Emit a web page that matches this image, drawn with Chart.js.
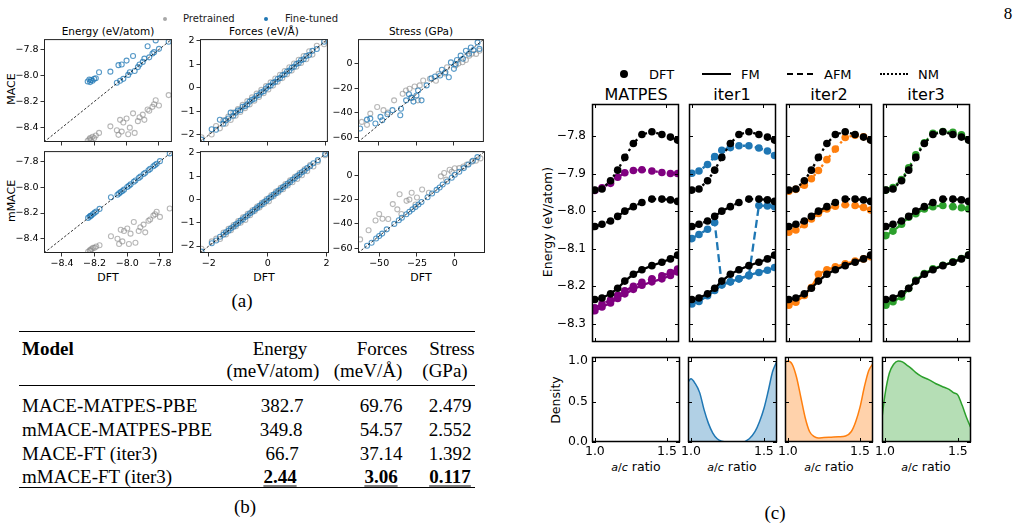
<!DOCTYPE html>
<html>
<head>
<meta charset="utf-8">
<script src="https://cdn.jsdelivr.net/npm/chart.js@4.4.1/dist/chart.umd.min.js"></script>
<style>
  body { margin:0; width:1025px; height:529px; background:#fff; position:relative; overflow:hidden; font-family:"DejaVu Sans", sans-serif; color:#000; }
  canvas { position:absolute; }
  .t { position:absolute; white-space:nowrap; transform:translate(-50%,-50%); line-height:1; }
  .l { position:absolute; white-space:nowrap; transform:translateY(-50%); line-height:1; }
  .rot { position:absolute; white-space:nowrap; transform:translate(-50%,-50%) rotate(-90deg); line-height:1; }
  .serif { font-family:"Liberation Serif", serif; font-size:19px; }
  .rule { position:absolute; left:19px; width:456px; background:#000; }
  .b { font-weight:bold; }
  .u { font-weight:bold; text-decoration:underline; text-underline-offset:3px; }
  .sm { font-size:10px; color:#222; }
</style>
</head>
<body>
<div class="t serif" style="left:1008px;top:13px;font-size:17px">8</div>

<!-- panel (a) texts -->
<div style="position:absolute;left:163px;top:17px;width:4px;height:4px;border-radius:50%;background:#a8a8a8"></div>
<div class="l sm" style="left:183px;top:19px">Pretrained</div>
<div style="position:absolute;left:264px;top:17px;width:4px;height:4px;border-radius:50%;background:#1f77b4"></div>
<div class="l sm" style="left:285px;top:19px">Fine-tuned</div>
<div class="t" style="left:108px;top:31px;font-size:10.5px">Energy (eV/atom)</div>
<div class="t" style="left:264px;top:31px;font-size:10.5px">Forces (eV/Å)</div>
<div class="t" style="left:421px;top:31px;font-size:10.5px">Stress (GPa)</div>
<div class="rot" style="left:11px;top:89px;font-size:11px">MACE</div>
<div class="rot" style="left:11px;top:201px;font-size:11px">mMACE</div>
<div class="t" style="left:108px;top:277px;font-size:11px">DFT</div>
<div class="t" style="left:264px;top:277px;font-size:11px">DFT</div>
<div class="t" style="left:421px;top:277px;font-size:11px">DFT</div>
<div class="t serif" style="left:242px;top:300px">(a)</div>

<!-- panel (b) table -->
<div class="rule" style="top:331px;height:1.4px"></div>
<div class="rule" style="top:385px;height:0.8px"></div>
<div class="rule" style="top:487px;height:1.4px"></div>
<div class="l serif b" style="left:22px;top:348px">Model</div>
<div class="t serif" style="left:280px;top:348px">Energy</div>
<div class="t serif" style="left:273px;top:370px">(meV/atom)</div>
<div class="t serif" style="left:382px;top:348px">Forces</div>
<div class="t serif" style="left:368px;top:370px">(meV/Å)</div>
<div class="t serif" style="left:452px;top:348px">Stress</div>
<div class="t serif" style="left:445px;top:370px">(GPa)</div>
<div class="l serif" style="left:22px;top:405px">MACE-MATPES-PBE</div>
<div class="t serif" style="left:282px;top:405px">382.7</div>
<div class="t serif" style="left:381px;top:405px">69.76</div>
<div class="t serif" style="left:450px;top:405px">2.479</div>
<div class="l serif" style="left:22px;top:429px">mMACE-MATPES-PBE</div>
<div class="t serif" style="left:281px;top:429px">349.8</div>
<div class="t serif" style="left:381px;top:429px">54.57</div>
<div class="t serif" style="left:450px;top:429px">2.552</div>
<div class="l serif" style="left:22px;top:453px">MACE-FT (iter3)</div>
<div class="t serif" style="left:282px;top:453px">66.7</div>
<div class="t serif" style="left:381px;top:453px">37.14</div>
<div class="t serif" style="left:450px;top:453px">1.392</div>
<div class="l serif" style="left:22px;top:476px">mMACE-FT (iter3)</div>
<div class="t serif u" style="left:280px;top:476px">2.44</div>
<div class="t serif u" style="left:381px;top:476px">3.06</div>
<div class="t serif u" style="left:450px;top:476px">0.117</div>
<div class="t serif" style="left:245px;top:506px">(b)</div>

<!-- panel (c) texts -->
<div style="position:absolute;left:620px;top:70px;width:8px;height:8px;border-radius:50%;background:#000"></div>
<div class="l" style="left:649px;top:74px;font-size:13px">DFT</div>
<div style="position:absolute;left:702px;top:73px;width:29px;border-top:2.5px solid #000"></div>
<div class="l" style="left:741px;top:74px;font-size:13px">FM</div>
<div style="position:absolute;left:787px;top:73px;width:26px;border-top:2.5px dashed #000"></div>
<div class="l" style="left:824px;top:74px;font-size:13px">AFM</div>
<div style="position:absolute;left:880px;top:73px;width:28px;border-top:2.5px dotted #000"></div>
<div class="l" style="left:918px;top:74px;font-size:13px">NM</div>
<div class="t" style="left:636px;top:95px;font-size:16px">MATPES</div>
<div class="t" style="left:732px;top:95px;font-size:16px">iter1</div>
<div class="t" style="left:829px;top:95px;font-size:16px">iter2</div>
<div class="t" style="left:926px;top:95px;font-size:16px">iter3</div>
<div class="rot" style="left:548px;top:222px;font-size:12.5px">Energy (eV/atom)</div>
<div class="rot" style="left:556px;top:400px;font-size:12.5px">Density</div>
<div class="t" style="left:636px;top:467px;font-size:12.5px"><i style="font-size:11px">a</i><span style="font-size:11px">/</span><i style="font-size:11px">c</i> ratio</div>
<div class="t" style="left:732px;top:467px;font-size:12.5px"><i style="font-size:11px">a</i><span style="font-size:11px">/</span><i style="font-size:11px">c</i> ratio</div>
<div class="t" style="left:829px;top:467px;font-size:12.5px"><i style="font-size:11px">a</i><span style="font-size:11px">/</span><i style="font-size:11px">c</i> ratio</div>
<div class="t" style="left:926px;top:467px;font-size:12.5px"><i style="font-size:11px">a</i><span style="font-size:11px">/</span><i style="font-size:11px">c</i> ratio</div>
<div class="t serif" style="left:775px;top:512px">(c)</div>

<script>
// ---- panel (a): parity data ----
const energyDft = [-8.24,-8.23,-8.225,-8.22,-8.21,-8.20,-8.19,-8.17,-8.10,-8.06,-8.05,-8.04,-8.03,-8.02,-8.00,-7.99,-7.98,-7.96,-7.95,-7.93,-7.92,-7.90,-7.89,-7.87,-7.86,-7.84,-7.83,-7.82,-7.80,-7.74];
const maceEnergyPre = [-8.50,-8.49,-8.48,-8.495,-8.47,-8.48,-8.46,-8.44,-8.39,-8.42,-8.455,-8.34,-8.43,-8.36,-8.33,-8.45,-8.40,-8.29,-8.44,-8.35,-8.32,-8.30,-8.34,-8.26,-8.27,-8.24,-8.22,-8.19,-8.23,-8.15];
const maceEnergyFt = [-8.045,-8.03,-8.05,-8.035,-8.04,-8.025,-8.02,-7.975,-7.97,-8.055,-7.92,-8.04,-7.915,-8.025,-7.885,-7.995,-7.975,-7.85,-7.965,-7.935,-7.915,-7.895,-7.87,-7.775,-7.86,-7.83,-7.82,-7.73,-7.795,-7.74];
const mmaceEnergyPre = [-8.50,-8.49,-8.49,-8.48,-8.47,-8.47,-8.46,-8.45,-8.38,-8.40,-8.44,-8.33,-8.42,-8.34,-8.32,-8.44,-8.36,-8.27,-8.43,-8.34,-8.31,-8.29,-8.35,-8.26,-8.25,-8.22,-8.21,-8.19,-8.23,-8.165];
const mmaceEnergyFt = [-8.238,-8.228,-8.222,-8.219,-8.208,-8.197,-8.188,-8.168,-8.078,-8.058,-8.048,-8.038,-8.029,-8.019,-7.998,-7.989,-7.978,-7.958,-7.948,-7.928,-7.918,-7.898,-7.888,-7.868,-7.858,-7.838,-7.828,-7.818,-7.798,-7.738];

const forcesDft = [-2.25,-1.9,-1.75,-1.62,-1.5,-1.42,-1.33,-1.25,-1.16,-1.08,-1.0,-0.92,-0.84,-0.76,-0.68,-0.6,-0.52,-0.44,-0.36,-0.28,-0.2,-0.12,-0.04,0.04,0.12,0.2,0.28,0.36,0.44,0.52,0.6,0.68,0.76,0.84,0.92,1.0,1.08,1.16,1.25,1.34,1.44,1.55,1.7,1.95];
const maceForcesPre = [-2.1,-1.98,-1.62,-1.72,-1.38,-1.52,-1.22,-1.36,-1.05,-1.18,-0.9,-1.02,-0.72,-0.86,-0.56,-0.7,-0.4,-0.54,-0.24,-0.38,-0.08,-0.22,0.08,-0.06,0.24,0.1,0.4,0.26,0.56,0.42,0.72,0.58,0.88,0.74,1.04,0.9,1.2,1.06,1.36,1.22,1.56,1.42,1.8,1.86];
const maceForcesFt = [-2.2,-1.76,-1.78,-1.35,-1.52,-1.38,-1.3,-1.05,-1.18,-1.05,-0.96,-0.95,-0.8,-0.78,-0.7,-0.58,-0.5,-0.46,-0.33,-0.3,-0.18,-0.14,-0.02,0.06,0.1,0.22,0.26,0.38,0.42,0.54,0.58,0.7,0.74,0.86,0.9,1.02,1.06,1.18,1.22,1.36,1.4,1.58,1.66,1.97];
const mmaceForcesPre = [-2.12,-1.8,-1.68,-1.7,-1.42,-1.5,-1.26,-1.32,-1.1,-1.15,-0.93,-1.0,-0.77,-0.88,-0.62,-0.68,-0.46,-0.5,-0.3,-0.34,-0.14,-0.18,0.02,-0.08,0.18,0.14,0.34,0.3,0.5,0.44,0.66,0.6,0.82,0.74,0.98,0.88,1.14,1.04,1.3,1.22,1.48,1.42,1.62,1.9];
const mmaceForcesFt = [-2.24,-1.88,-1.76,-1.6,-1.51,-1.41,-1.34,-1.24,-1.17,-1.07,-1.01,-0.91,-0.85,-0.75,-0.69,-0.59,-0.53,-0.43,-0.37,-0.27,-0.21,-0.11,-0.05,0.05,0.11,0.21,0.27,0.37,0.43,0.53,0.59,0.69,0.75,0.85,0.91,1.01,1.07,1.17,1.24,1.35,1.43,1.56,1.69,1.96];

// stress as [DFT, model] pairs
const maceStressPre = [[-61.5,-47.6],[-55.8,-40.8],[-51.2,-35.4],[-47,-38],[-39.9,-30],[-34.2,-24.6],[-29.6,-20.5],[-26.2,-18.7],[-22.8,-17.8],[-20.5,-13.8],[-16,-12.4],[-10.2,-8.4],[-4.6,-3],[1.1,-1.6],[5.7,1.1],[10.2,6.5],[14.8,7.9],[17,10.5],[-24,-30],[-28,-28],[-32,-22],[-44,-40],[-58,-50],[-12,-14],[-6,-8],[3,0],[8,3],[12,8]];
const maceStressFt = [[-62.6,-53],[-58,-45.7],[-55.8,-44.9],[-52.4,-48.9],[-49,-43.5],[-47.8,-46.2],[-44.4,-41.4],[-41,-38],[-35.8,-42.2],[-35.3,-36.8],[-31.9,-30],[-28.5,-27.8],[-25,-26],[-23.9,-21.9],[-21.6,-30],[-18.2,-17.8],[-15,-12],[-12.6,-10.5],[-9.2,-9.7],[-5.7,-7],[-3.4,-11.1],[0,-4.3],[1.1,-0.3],[4.5,6.5],[8,10.5],[11.3,13.2],[15.8,17.3],[17,12],[-8,-5],[-2,1],[2,3],[6,4],[10,8],[13,11],[-30,-25],[-27,-31]];
const mmaceStressPre = [[-62.6,-52.8],[-57,-45.2],[-52.4,-37.2],[-50,-31.8],[-47.8,-35.8],[-41,-23.7],[-36.5,-15.6],[-35.3,-31.8],[-31.9,-21],[-28.5,-14.3],[-25,-18.3],[-21.6,-11.6],[-17.1,-14.3],[-9.2,-0.8],[-5.7,-3.5],[-3.4,4.6],[0,5.9],[5.7,7.3],[11.3,11.3],[17,14],[-30,-20],[-26,-24],[-38,-28],[-44,-36],[-7,2],[-2,3],[3,6],[8,9],[14,12]];
const mmaceStressFt = [[-58,-58],[-55,-55.5],[-52,-52],[-50,-50],[-48,-48],[-45,-44.5],[-40,-40],[-37,-37],[-35,-35],[-32,-32],[-30,-30],[-28,-28],[-26,-26],[-24,-24],[-22,-22],[-18,-18],[-15,-15],[-12,-12],[-10,-10],[-8,-7.5],[-5,-5],[-2,-2],[0,0.5],[3,3],[6,6],[9,9],[12,12],[15,15]];

const energyLim = [-8.51, -7.72], energyTicks = [-8.4, -8.2, -8.0, -7.8];
const forcesLim = [-2.3, 2.08], forcesTicks = [-2, -1, 0, 1, 2], forcesXTicks = [-2, 0, 2];
const stressLim = [-64, 20], stressTicks = [-60, -40, -20, 0], stressXTicks = [-50, -25, 0];

// ---- panel (c): energy vs a/c ratio ----
const acRatio = [1.00, 1.05, 1.11, 1.16, 1.21, 1.27, 1.33, 1.40, 1.47, 1.53, 1.58];
const dftNM  = [-7.944, -7.941, -7.919, -7.891, -7.857, -7.820, -7.796, -7.789, -7.796, -7.803, -7.811];
const dftAFM = [-8.041, -8.035, -8.026, -8.014, -8.000, -7.988, -7.977, -7.968, -7.968, -7.970, -7.974];
const dftFM  = [-8.235, -8.231, -8.220, -8.205, -8.186, -8.168, -8.156, -8.145, -8.136, -8.127, -8.117];
const matpesNM  = [-7.945, -7.938, -7.926, -7.910, -7.898, -7.892, -7.890, -7.893, -7.897, -7.900, -7.900];
const matpesAFM = [-8.257, -8.247, -8.236, -8.224, -8.212, -8.200, -8.189, -8.180, -8.172, -8.163, -8.154];
const matpesFM  = [-8.265, -8.255, -8.244, -8.232, -8.220, -8.208, -8.197, -8.188, -8.180, -8.171, -8.162];
const iter1NM  = [-7.899, -7.893, -7.876, -7.855, -7.838, -7.831, -7.826, -7.826, -7.832, -7.840, -7.852];
const iter1AFM = [-8.073, -8.062, -8.048, -8.030, -8.196, -8.188, -8.180, -8.172, -7.985, -7.986, -7.988];
const iter1FM  = [-8.247, -8.240, -8.225, -8.211, -8.196, -8.188, -8.180, -8.170, -8.163, -8.157, -8.150];
const iter2NM  = [-7.947, -7.942, -7.931, -7.914, -7.892, -7.863, -7.835, -7.804, -7.798, -7.802, -7.810];
const iter2AFM = [-8.056, -8.050, -8.036, -8.021, -8.006, -7.994, -7.987, -7.983, -7.985, -7.990, -7.997];
const iter2FM  = [-8.250, -8.242, -8.224, -8.203, -8.168, -8.156, -8.148, -8.140, -8.133, -8.127, -8.121];
const iter3NM  = [-7.944, -7.937, -7.916, -7.885, -7.850, -7.818, -7.793, -7.788, -7.790, -7.797, -7.810];
const iter3AFM = [-8.065, -8.053, -8.035, -8.016, -8.007, -7.994, -7.988, -7.985, -7.988, -7.991, -7.994];
const iter3FM  = [-8.250, -8.241, -8.228, -8.206, -8.184, -8.166, -8.153, -8.144, -8.135, -8.126, -8.117];

const densAc = [0.98, 1.00, 1.03, 1.06, 1.09, 1.12, 1.15, 1.18, 1.21, 1.25, 1.30, 1.35, 1.40, 1.44, 1.47, 1.50, 1.53, 1.56, 1.59];
const iter1Dens = [0.74, 0.78, 0.72, 0.61, 0.40, 0.23, 0.11, 0.04, 0.01, 0.0, 0.0, 0.0, 0.04, 0.13, 0.25, 0.41, 0.63, 0.87, 1.0];
const iter2Dens = [0.98, 1.0, 0.96, 0.80, 0.55, 0.30, 0.13, 0.07, 0.05, 0.055, 0.06, 0.065, 0.075, 0.13, 0.25, 0.43, 0.68, 0.88, 0.97];
const iter3Dens = [0.30, 0.58, 0.85, 0.96, 1.0, 0.99, 0.95, 0.91, 0.86, 0.81, 0.77, 0.72, 0.68, 0.65, 0.61, 0.58, 0.45, 0.30, 0.17];

const acLim = [0.98, 1.59], acTicks = [1.0, 1.5];
const eLim = [-8.348, -7.715], eTicks = [-7.8, -7.9, -8.0, -8.1, -8.2, -8.3];
const densLim = [0, 1.05], densTicks = [0, 0.5, 1.0];

const BLUE = '#1f77b4', ORANGE = '#ff7f0e', GREEN = '#2ca02c', PURPLE = '#800080';

Chart.defaults.font.family = '"DejaVu Sans", sans-serif';
Chart.defaults.color = '#000';

const fmt = d => v => (v < 0 ? '\u2212' : '') + Math.abs(v).toFixed(d);

// box around the axes, optional inward ticks on all four sides
const framePlugin = {
  id: 'frame',
  defaults: { lw: 1, color: '#000', inTicks: false, len: 4 },
  afterDatasetsDraw(chart, args, o) {
    const { ctx, chartArea: a, scales } = chart;
    ctx.save();
    ctx.strokeStyle = o.color;
    if (o.inTicks) {
      ctx.lineWidth = 1;
      ctx.beginPath();
      scales.x.ticks.forEach(t => {
        const p = Math.round(scales.x.getPixelForValue(t.value)) + 0.5;
        ctx.moveTo(p, a.bottom); ctx.lineTo(p, a.bottom - o.len);
        ctx.moveTo(p, a.top); ctx.lineTo(p, a.top + o.len);
      });
      scales.y.ticks.forEach(t => {
        const p = Math.round(scales.y.getPixelForValue(t.value)) + 0.5;
        ctx.moveTo(a.left, p); ctx.lineTo(a.left + o.len, p);
        ctx.moveTo(a.right, p); ctx.lineTo(a.right - o.len, p);
      });
      ctx.stroke();
    }
    ctx.lineWidth = o.lw;
    ctx.strokeRect(a.left + 0.5, a.top + 0.5, a.width - 1, a.height - 1);
    ctx.restore();
  }
};
Chart.register(framePlugin);

function place(box, m) {
  const c = document.createElement('canvas');
  const w = m.l + box.w + m.r, h = m.t + box.h + m.b;
  c.width = w; c.height = h;
  c.style.left = (box.x - m.l) + 'px';
  c.style.top = (box.y - m.t) + 'px';
  c.style.width = w + 'px'; c.style.height = h + 'px';
  document.body.appendChild(c);
  return c;
}

function axis(lim, tickVals, dec, o) {
  return {
    type: 'linear', min: lim[0], max: lim[1],
    afterBuildTicks: s => { s.ticks = tickVals.map(v => ({ value: v })); },
    ticks: { display: o.show, autoSkip: false, maxRotation: 0, font: { size: o.size }, color: '#000', padding: o.pad, callback: fmt(dec) },
    grid: o.out ? { display: true, drawOnChartArea: false, tickLength: 3.5, tickColor: '#000', tickWidth: 0.8 }
                : { display: false, drawTicks: false },
    border: { display: false },
    afterFit: s => {
      if (s.isHorizontal()) { s.height = o.fit; s.paddingLeft = 0; s.paddingRight = 0; }
      else { s.width = o.fit; s.paddingTop = 0; s.paddingBottom = 0; }
    }
  };
}

function baseOptions(m, scales, frame) {
  return {
    responsive: false, animation: false, events: [],
    layout: { padding: { left: 0, top: m.t, right: m.r, bottom: 0 } },
    plugins: { legend: { display: false }, tooltip: { enabled: false }, frame },
    scales
  };
}

const toXY = (xs, ys) => xs.map((x, i) => ({ x, y: ys[i] }));
const pairXY = ps => ps.map(p => ({ x: p[0], y: p[1] }));

function parity(box, m, lim, yTicks, xTicks, dec, pre, ft, showX) {
  const c = place(box, m);
  new Chart(c, {
    type: 'scatter',
    data: { datasets: [
      { type: 'line', data: [{ x: lim[0], y: lim[0] }, { x: lim[1], y: lim[1] }], borderColor: '#000', borderWidth: 0.8, borderDash: [2.5, 1.8], pointRadius: 0 },
      { data: ft, borderColor: 'rgba(31,119,180,0.75)', backgroundColor: 'rgba(0,0,0,0)', pointRadius: 2.5, borderWidth: 1.1 },
      { data: pre, borderColor: 'rgba(135,135,135,0.6)', backgroundColor: 'rgba(0,0,0,0)', pointRadius: 2.5, borderWidth: 1.1 }
    ]},
    options: baseOptions(m, {
      x: axis(lim, xTicks, dec, { show: showX, size: 9.5, pad: 1, out: true, fit: m.b }),
      y: axis(lim, yTicks, dec, { show: true, size: 9.5, pad: 2, out: true, fit: m.l })
    }, { lw: 1, color: '#222' })
  });
}

const mTop = { l: 34, r: 4, t: 4, b: 6 }, mBot = { l: 34, r: 8, t: 4, b: 16 };
parity({ x: 44, y: 38, w: 129, h: 104 }, mTop, energyLim, energyTicks, energyTicks, 1, toXY(energyDft, maceEnergyPre), toXY(energyDft, maceEnergyFt), false);
parity({ x: 200, y: 38, w: 129, h: 104 }, mTop, forcesLim, forcesTicks, forcesXTicks, 0, toXY(forcesDft, maceForcesPre), toXY(forcesDft, maceForcesFt), false);
parity({ x: 358, y: 38, w: 127, h: 104 }, mTop, stressLim, stressTicks, stressXTicks, 0, pairXY(maceStressPre), pairXY(maceStressFt), false);
parity({ x: 44, y: 150, w: 129, h: 103 }, mBot, energyLim, energyTicks, energyTicks, 1, toXY(energyDft, mmaceEnergyPre), toXY(energyDft, mmaceEnergyFt), true);
parity({ x: 200, y: 150, w: 129, h: 103 }, mBot, forcesLim, forcesTicks, forcesXTicks, 0, toXY(forcesDft, mmaceForcesPre), toXY(forcesDft, mmaceForcesFt), true);
parity({ x: 358, y: 150, w: 127, h: 103 }, mBot, stressLim, stressTicks, stressXTicks, 0, pairXY(mmaceStressPre), pairXY(mmaceStressFt), true);

// ---- panel (c) ----
const DOT = [2.5, 3.5], DASH = [8, 4];
function curve(ys, color, dash) {
  return { data: toXY(acRatio, ys), borderColor: color, backgroundColor: color, borderWidth: 2.3, borderDash: dash, pointRadius: 3.8, pointBorderWidth: 0, tension: 0 };
}

function energyPanel(box, m, nm, afm, fm, color, showY) {
  const c = place(box, m);
  new Chart(c, {
    type: 'line',
    data: { datasets: [
      curve(dftNM, '#000', DOT), curve(dftAFM, '#000', DASH), curve(dftFM, '#000', []),
      curve(nm, color, DOT), curve(afm, color, DASH), curve(fm, color, [])
    ]},
    options: baseOptions(m, {
      x: axis(acLim, acTicks, 1, { show: false, size: 12, pad: 3, out: false, fit: m.b }),
      y: axis(eLim, eTicks, 1, { show: showY, size: 12, pad: 6, out: false, fit: m.l })
    }, { lw: 1.5, color: '#000', inTicks: true, len: 4 })
  });
}

function densityPanel(box, m, dens, color, fill, showY) {
  const c = place(box, m);
  const sets = dens ? [{ data: toXY(densAc, dens), borderColor: color, backgroundColor: fill, borderWidth: 1.5, fill: 'origin', pointRadius: 0, cubicInterpolationMode: 'monotone' }] : [];
  new Chart(c, {
    type: 'line',
    data: { datasets: sets },
    options: baseOptions(m, {
      x: axis(acLim, acTicks, 1, { show: true, size: 12.5, pad: 2, out: false, fit: m.b }),
      y: axis(densLim, densTicks, 1, { show: showY, size: 12.5, pad: 4, out: false, fit: m.l })
    }, { lw: 1.5, color: '#000', inTicks: true, len: 4 })
  });
}

const mE1 = { l: 44, r: 3, t: 3, b: 3 }, mE = { l: 3, r: 3, t: 3, b: 3 };
energyPanel({ x: 592, y: 103, w: 88, h: 240 }, mE1, matpesNM, matpesAFM, matpesFM, PURPLE, true);
energyPanel({ x: 688, y: 103, w: 89, h: 240 }, mE, iter1NM, iter1AFM, iter1FM, BLUE, false);
energyPanel({ x: 785, y: 103, w: 88, h: 240 }, mE, iter2NM, iter2AFM, iter2FM, ORANGE, false);
energyPanel({ x: 882, y: 103, w: 89, h: 240 }, mE, iter3NM, iter3AFM, iter3FM, GREEN, false);

const mD1 = { l: 44, r: 12, t: 3, b: 18 }, mD = { l: 14, r: 12, t: 3, b: 18 };
densityPanel({ x: 592, y: 357, w: 88, h: 85 }, mD1, null, PURPLE, null, true);
densityPanel({ x: 688, y: 357, w: 89, h: 85 }, mD, iter1Dens, BLUE, 'rgba(31,119,180,0.35)', false);
densityPanel({ x: 785, y: 357, w: 88, h: 85 }, mD, iter2Dens, ORANGE, 'rgba(255,127,14,0.35)', false);
densityPanel({ x: 882, y: 357, w: 89, h: 85 }, mD, iter3Dens, GREEN, 'rgba(44,160,44,0.35)', false);
</script>
</body>
</html>
